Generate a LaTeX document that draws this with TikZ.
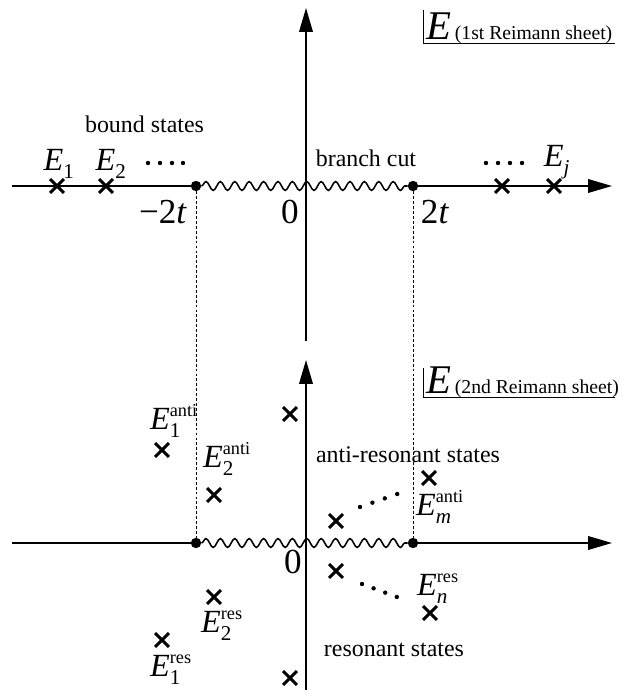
\documentclass[tikz,border=0pt]{standalone}
\usepackage{amsmath}
\usepackage{fontspec}
\setmainfont{Liberation Serif}
\usetikzlibrary{arrows.meta,decorations.pathmorphing,shapes.misc}
\newcommand{\Elab}[2]{\textit{E}$_{\mbox{\fontsize{15}{16}\selectfont#1}}^{\mbox{\fontsize{13}{14}\selectfont#2}}$}
\begin{document}
\begin{tikzpicture}[
  axis/.style={line width=1.3pt,-{Triangle[length=0.6cm,width=0.34cm]}},
  cut/.style={line width=1.1pt,decorate,decoration={snake,amplitude=0.11cm,segment length=0.36cm}},
  pole/.style={draw,cross out,line width=2.2pt,minimum size=0.27cm,inner sep=0pt},
  branchpt/.style={circle,fill,inner sep=0pt,minimum size=0.26cm},
  guide/.style={line width=0.5pt,dash pattern=on 2pt off 1.5pt},
  lbl/.style={inner sep=0pt,font=\fontsize{17}{20}\selectfont},
  elbl/.style={inner sep=0pt,font=\fontsize{23}{26}\selectfont},
  numlbl/.style={inner sep=0pt,font=\fontsize{25}{28}\selectfont},
  dotp/.style={circle,fill,inner sep=0pt,minimum size=0.11cm}]
\useasboundingbox (0,0) rectangle (15.55,17.4);

% first sheet
\coordinate (tl) at (0.3,12.75);
\coordinate (tr) at (15.3,12.75);
\coordinate (tb) at (7.65,8.875);
\coordinate (tt) at (7.65,17.2);
\node[branchpt] (tm) at (4.9,12.75) {};
\node[branchpt] (tp) at (10.325,12.75) {};
\draw[line width=1.3pt] (tl) -- (tm);
\draw[cut] (tm) -- (tp);
\draw[axis] (tp) -- (tr);
\draw[axis] (tb) -- (tt);

\node[pole] (b1) at (1.425,12.75) {};
\node[pole] (b2) at (2.65,12.75) {};
\node[pole] (bj1) at (12.55,12.75) {};
\node[pole] (bj) at (13.85,12.75) {};
\node[elbl] (lb1) at (1.475,13.3) {\Elab{1}{}};
\node[elbl] (lb2) at (2.775,13.3) {\Elab{2}{}};
\node[elbl] (lbj) at (13.925,13.35) {\Elab{\textit{j}}{}};
\foreach \x in {3.7,4.0,4.3,4.575} \node[dotp] at (\x,13.325) {};
\foreach \x in {12.15,12.45,12.75,13.05} \node[dotp] at (\x,13.325) {};
\node[lbl] (bound) at (3.6125,14.3) {bound states};
\node[lbl] (bcut) at (9.15,13.45) {branch cut};
\node[numlbl] (mtwo) at (4.075,12.1) {−2\textit{t}};
\node[numlbl] (zero1) at (7.25,12.1) {0};
\node[numlbl] (ptwo) at (10.875,12.1) {2\textit{t}};

\draw[line width=0.6pt] (10.575,17.15) -- (10.575,16.325) -- (15.375,16.325);
\node[anchor=base west,inner sep=0pt] (sheet1) at (10.66,16.41)
  {\fontsize{29}{30}\selectfont\textit{E}\fontsize{14}{16}\selectfont\,(1st Reimann sheet)};

% second sheet
\coordinate (bl) at (0.3,3.825);
\coordinate (br) at (15.3,3.825);
\coordinate (bb) at (7.65,0.15);
\coordinate (bt) at (7.65,8.4);
\node[branchpt] (bm) at (4.9,3.825) {};
\node[branchpt] (bp) at (10.325,3.825) {};
\draw[line width=1.3pt] (bl) -- (bm);
\draw[cut] (bm) -- (bp);
\draw[axis] (bp) -- (br);
\draw[axis] (bb) -- (bt);

\draw[guide] (tm) -- (bm);
\draw[guide] (tp) -- (bp);

\node[pole] (a0) at (7.25,7.05) {};
\node[pole] (a1) at (4.05,6.15) {};
\node[pole] (a2) at (5.35,5.025) {};
\node[pole] (a3) at (8.4,4.375) {};
\node[pole] (am) at (10.725,5.45) {};
\node[pole] (r3) at (8.4,3.125) {};
\node[pole] (r2) at (5.35,2.475) {};
\node[pole] (r1) at (4.05,1.4) {};
\node[pole] (rn) at (10.75,2.075) {};
\node[pole] (r0) at (7.25,0.45) {};

\node[elbl] (la1) at (4.35,6.875) {\Elab{1}{anti}};
\node[elbl] (la2) at (5.675,5.925) {\Elab{2}{anti}};
\node[elbl] (lam) at (11.0,4.725) {\Elab{\textit{m}}{anti}};
\node[elbl] (lr2) at (5.55,1.75) {\Elab{2}{res}};
\node[elbl] (lr1) at (4.275,0.65) {\Elab{1}{res}};
\node[elbl] (lrn) at (10.95,2.675) {\Elab{\textit{n}}{res}};
\foreach \i in {0,1,2,3} \node[dotp] at (9.0+0.31*\i,4.725+0.108*\i) {};
\foreach \i in {0,1,2,3} \node[dotp] at (9.05+0.29*\i,2.8-0.108*\i) {};
\node[lbl] (anti) at (10.2,6.025) {anti-resonant states};
\node[lbl] (res) at (9.85,1.15) {resonant states};
\node[numlbl] (zero2) at (7.325,3.35) {0};

\draw[line width=0.6pt] (10.575,8.2) -- (10.575,7.475) -- (15.375,7.475);
\node[anchor=base west,inner sep=0pt] (sheet2) at (10.66,7.56)
  {\fontsize{29}{30}\selectfont\textit{E}\fontsize{14}{16}\selectfont\,(2nd Reimann sheet)};
\end{tikzpicture}
\end{document}
